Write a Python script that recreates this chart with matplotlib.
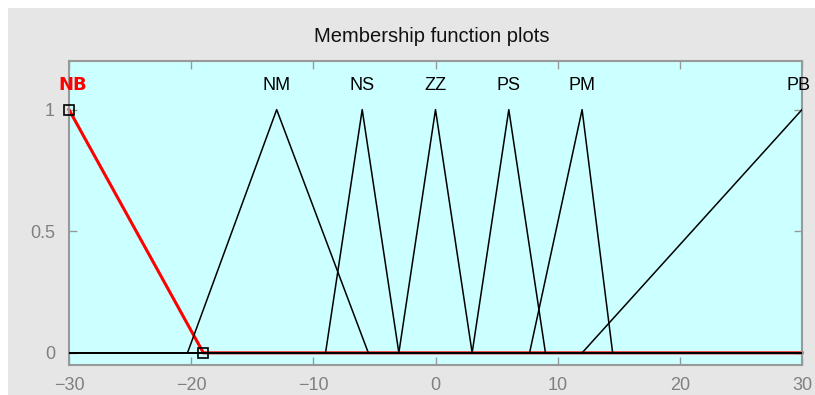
import numpy as np
import matplotlib
matplotlib.use('Agg')
import matplotlib.pyplot as plt
from matplotlib.patches import Rectangle

plt.rcParams['font.family'] = ['Liberation Sans', 'DejaVu Sans']

# membership functions (triangles a, b, c)
mf_names = ['NB', 'NM', 'NS', 'ZZ', 'PS', 'PM', 'PB']
mf_a = [-30, -20.3, -9, -3, 3, 7.7, 12]
mf_b = [-30, -13, -6, 0, 6, 12, 30]
mf_c = [-19, -5.5, -3, 3, 9, 14.5, 30]
label_x = [-29.7, -13, -6, 0, 6, 12, 29.7]
selected = 'NB'

x_ticks = [-30, -20, -10, 0, 10, 20, 30]
y_ticks = [0, 0.5, 1]
y_tick_labels = ['0', '0.5', '1']


def trimf(x, a, b, c):
    left = np.where(b > a, (x - a) / (b - a + 1e-12), 1.0)
    right = np.where(c > b, (c - x) / (c - b + 1e-12), 1.0)
    return np.clip(np.minimum(left, right), 0, 1)


x = np.linspace(-30, 30, 601)

fig = plt.figure(figsize=(8.15, 3.95), dpi=100, facecolor='white')
fig.patches.append(Rectangle((8 / 815, 0), 1, (395 - 8) / 395, transform=fig.transFigure,
                             facecolor='#e6e6e6', edgecolor='none', zorder=-10))

ax = fig.add_axes([69 / 815, 30 / 395, 733 / 815, 304 / 395])
ax.set_zorder(1)
ax.set_facecolor('#ccffff')

for name, a, b, c, lx in zip(mf_names, mf_a, mf_b, mf_c, label_x):
    y = trimf(x, a, b, c)
    if name == selected:
        ax.plot(x, y, color='red', lw=2.2, zorder=2, clip_on=False)
        # corner handles
        ax.plot([a, c], [1, 0], ls='none', marker='s', ms=7, mfc='none',
                mec='black', mew=1.2, zorder=4, clip_on=False)
        ax.text(lx, 1.1, name, color='red', fontweight='bold', fontsize=13,
                ha='center', va='center', family=['Liberation Sans Narrow', 'DejaVu Sans'])
    else:
        ax.plot(x, y, color='black', lw=1.1, zorder=3)
        ax.text(lx, 1.1, name, color='black', fontsize=13, ha='center', va='center')

ax.set_xlim(-30, 30)
ax.set_ylim(-0.05, 1.2)
ax.set_xticks(x_ticks)
ax.set_yticks(y_ticks)
ax.set_yticklabels(y_tick_labels)
ax.tick_params(direction='in', length=6, width=1, color='#999999', labelcolor='#808080',
               labelsize=13, top=True, right=True)
ax.tick_params(axis='x', pad=9)
ax.tick_params(axis='y', pad=10)
for sp in ax.spines.values():
    sp.set_color('#999999')
    sp.set_linewidth(1.5)

fig.text(432 / 815, 1 - 36 / 395, 'Membership function plots', ha='center', va='center',
         fontsize=14.5, color='#111111')

fig.savefig('out.png', dpi=100)
